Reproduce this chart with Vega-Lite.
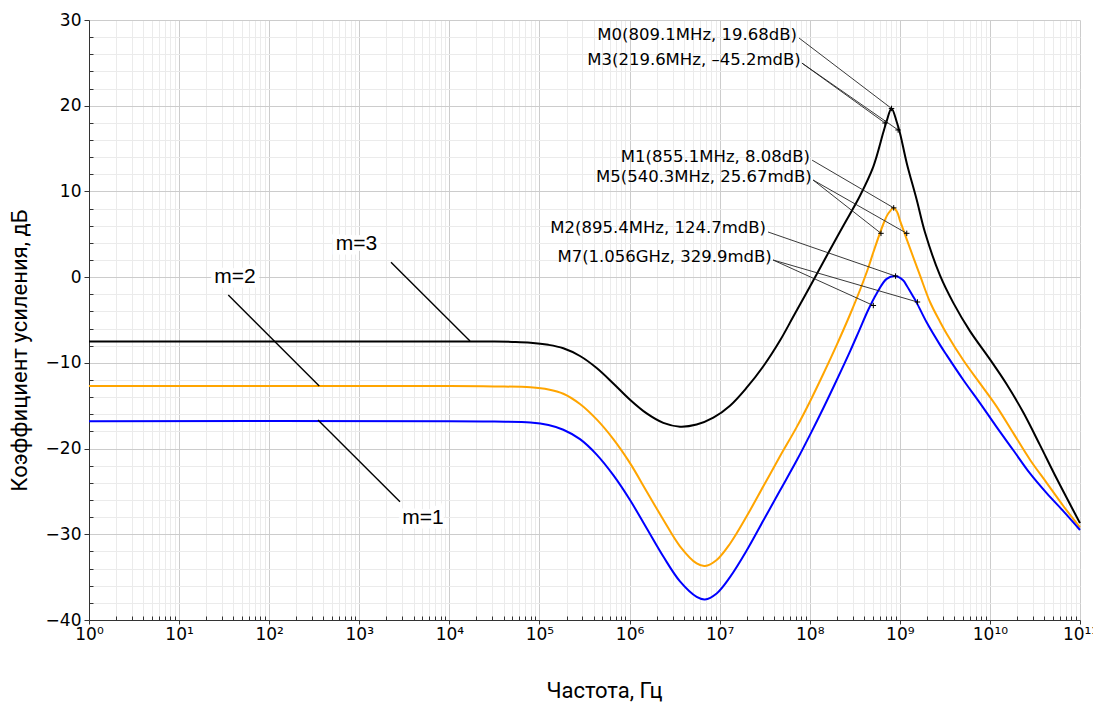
{
  "$schema": "https://vega.github.io/schema/vega-lite/v6.json",
  "width": 991,
  "height": 600,
  "autosize": {"type": "none"},
  "padding": {"left": 89, "top": 20, "right": 13, "bottom": 82},
  "background": "white",
  "config": {"view": {"stroke": null}, "font": "DejaVu Sans"},
  "datasets": {
    "curves": [
      {"series": "m=3", "f": 1, "db": -7.5},
      {"series": "m=3", "f": 1e4, "db": -7.5},
      {"series": "m=3", "f": 3.162e4, "db": -7.52},
      {"series": "m=3", "f": 5.012e4, "db": -7.56},
      {"series": "m=3", "f": 7.943e4, "db": -7.65},
      {"series": "m=3", "f": 1.259e5, "db": -7.9},
      {"series": "m=3", "f": 1.841e5, "db": -8.3},
      {"series": "m=3", "f": 2.818e5, "db": -9.2},
      {"series": "m=3", "f": 4.315e5, "db": -10.6},
      {"series": "m=3", "f": 6.607e5, "db": -12.4},
      {"series": "m=3", "f": 1.012e6, "db": -14.3},
      {"series": "m=3", "f": 1.549e6, "db": -15.9},
      {"series": "m=3", "f": 2.371e6, "db": -17.0},
      {"series": "m=3", "f": 3.631e6, "db": -17.45},
      {"series": "m=3", "f": 5.559e6, "db": -17.2},
      {"series": "m=3", "f": 8.511e6, "db": -16.4},
      {"series": "m=3", "f": 1.303e7, "db": -15.0},
      {"series": "m=3", "f": 1.995e7, "db": -12.9},
      {"series": "m=3", "f": 3.055e7, "db": -10.4},
      {"series": "m=3", "f": 4.677e7, "db": -7.4},
      {"series": "m=3", "f": 6.577e7, "db": -4.6},
      {"series": "m=3", "f": 1.007e8, "db": -1.1},
      {"series": "m=3", "f": 1.545e8, "db": 2.5},
      {"series": "m=3", "f": 2.36e8, "db": 6.0},
      {"series": "m=3", "f": 3.614e8, "db": 9.5},
      {"series": "m=3", "f": 5.082e8, "db": 12.9},
      {"series": "m=3", "f": 6.561e8, "db": 16.9},
      {"series": "m=3", "f": 7.145e8, "db": 18.2},
      {"series": "m=3", "f": 8.091e8, "db": 19.68},
      {"series": "m=3", "f": 9.247e8, "db": 18.1},
      {"series": "m=3", "f": 1.005e9, "db": 16.8},
      {"series": "m=3", "f": 1.194e9, "db": 13.3},
      {"series": "m=3", "f": 1.542e9, "db": 9.0},
      {"series": "m=3", "f": 1.905e9, "db": 5.2},
      {"series": "m=3", "f": 2.793e9, "db": 0.2},
      {"series": "m=3", "f": 3.926e9, "db": -3.0},
      {"series": "m=3", "f": 6.012e9, "db": -6.3},
      {"series": "m=3", "f": 1.002e10, "db": -9.6},
      {"series": "m=3", "f": 1.535e10, "db": -12.5},
      {"series": "m=3", "f": 2.35e10, "db": -15.8},
      {"series": "m=3", "f": 3.597e10, "db": -19.6},
      {"series": "m=3", "f": 5.508e10, "db": -23.5},
      {"series": "m=3", "f": 1e11, "db": -28.7},

      {"series": "m=2", "f": 1, "db": -12.7},
      {"series": "m=2", "f": 1e4, "db": -12.7},
      {"series": "m=2", "f": 3.162e4, "db": -12.75},
      {"series": "m=2", "f": 7.943e4, "db": -12.85},
      {"series": "m=2", "f": 1.259e5, "db": -13.1},
      {"series": "m=2", "f": 1.841e5, "db": -13.6},
      {"series": "m=2", "f": 2.818e5, "db": -14.8},
      {"series": "m=2", "f": 4.315e5, "db": -16.6},
      {"series": "m=2", "f": 6.607e5, "db": -18.9},
      {"series": "m=2", "f": 1.012e6, "db": -21.7},
      {"series": "m=2", "f": 1.549e6, "db": -25.0},
      {"series": "m=2", "f": 2.371e6, "db": -28.3},
      {"series": "m=2", "f": 3.631e6, "db": -31.4},
      {"series": "m=2", "f": 5.559e6, "db": -33.4},
      {"series": "m=2", "f": 6.871e6, "db": -33.7},
      {"series": "m=2", "f": 9.268e6, "db": -33.0},
      {"series": "m=2", "f": 1.303e7, "db": -31.1},
      {"series": "m=2", "f": 1.995e7, "db": -27.9},
      {"series": "m=2", "f": 3.055e7, "db": -24.4},
      {"series": "m=2", "f": 4.677e7, "db": -20.9},
      {"series": "m=2", "f": 7.161e7, "db": -17.5},
      {"series": "m=2", "f": 1.007e8, "db": -14.5},
      {"series": "m=2", "f": 1.413e8, "db": -11.3},
      {"series": "m=2", "f": 1.995e8, "db": -7.9},
      {"series": "m=2", "f": 2.818e8, "db": -4.3},
      {"series": "m=2", "f": 3.614e8, "db": -1.5},
      {"series": "m=2", "f": 4.467e8, "db": 1.1},
      {"series": "m=2", "f": 5.082e8, "db": 2.9},
      {"series": "m=2", "f": 6.561e8, "db": 6.2},
      {"series": "m=2", "f": 7.413e8, "db": 7.4},
      {"series": "m=2", "f": 8.551e8, "db": 8.08},
      {"series": "m=2", "f": 9.333e8, "db": 7.6},
      {"series": "m=2", "f": 1.005e9, "db": 6.6},
      {"series": "m=2", "f": 1.194e9, "db": 4.4},
      {"series": "m=2", "f": 1.675e9, "db": 0.2},
      {"series": "m=2", "f": 2.163e9, "db": -2.9},
      {"series": "m=2", "f": 2.793e9, "db": -5.2},
      {"series": "m=2", "f": 3.311e9, "db": -6.6},
      {"series": "m=2", "f": 5.07e9, "db": -9.7},
      {"series": "m=2", "f": 7.762e9, "db": -12.4},
      {"series": "m=2", "f": 1.189e10, "db": -15.1},
      {"series": "m=2", "f": 1.82e10, "db": -18.2},
      {"series": "m=2", "f": 2.786e10, "db": -21.3},
      {"series": "m=2", "f": 4.266e10, "db": -24.0},
      {"series": "m=2", "f": 6.531e10, "db": -26.7},
      {"series": "m=2", "f": 1e11, "db": -29.2},

      {"series": "m=1", "f": 1, "db": -16.8},
      {"series": "m=1", "f": 1e4, "db": -16.8},
      {"series": "m=1", "f": 3.162e4, "db": -16.85},
      {"series": "m=1", "f": 7.943e4, "db": -16.95},
      {"series": "m=1", "f": 1.259e5, "db": -17.25},
      {"series": "m=1", "f": 1.841e5, "db": -17.8},
      {"series": "m=1", "f": 2.818e5, "db": -18.9},
      {"series": "m=1", "f": 4.315e5, "db": -20.7},
      {"series": "m=1", "f": 6.607e5, "db": -23.1},
      {"series": "m=1", "f": 1.012e6, "db": -26.0},
      {"series": "m=1", "f": 1.549e6, "db": -29.3},
      {"series": "m=1", "f": 2.371e6, "db": -32.6},
      {"series": "m=1", "f": 3.631e6, "db": -35.5},
      {"series": "m=1", "f": 5.559e6, "db": -37.3},
      {"series": "m=1", "f": 6.871e6, "db": -37.6},
      {"series": "m=1", "f": 9.268e6, "db": -36.9},
      {"series": "m=1", "f": 1.303e7, "db": -35.0},
      {"series": "m=1", "f": 1.995e7, "db": -31.9},
      {"series": "m=1", "f": 3.055e7, "db": -28.4},
      {"series": "m=1", "f": 4.677e7, "db": -24.9},
      {"series": "m=1", "f": 7.161e7, "db": -21.4},
      {"series": "m=1", "f": 1.007e8, "db": -18.4},
      {"series": "m=1", "f": 1.413e8, "db": -15.3},
      {"series": "m=1", "f": 1.995e8, "db": -12.0},
      {"series": "m=1", "f": 2.818e8, "db": -8.6},
      {"series": "m=1", "f": 3.548e8, "db": -6.2},
      {"series": "m=1", "f": 4.467e8, "db": -3.8},
      {"series": "m=1", "f": 5.534e8, "db": -1.9},
      {"series": "m=1", "f": 7.145e8, "db": -0.2},
      {"series": "m=1", "f": 8.954e8, "db": 0.125},
      {"series": "m=1", "f": 1.094e9, "db": -0.4},
      {"series": "m=1", "f": 1.194e9, "db": -1.0},
      {"series": "m=1", "f": 1.413e9, "db": -2.3},
      {"series": "m=1", "f": 1.542e9, "db": -3.0},
      {"series": "m=1", "f": 1.991e9, "db": -5.3},
      {"series": "m=1", "f": 2.793e9, "db": -7.9},
      {"series": "m=1", "f": 3.311e9, "db": -9.1},
      {"series": "m=1", "f": 5.07e9, "db": -12.0},
      {"series": "m=1", "f": 7.762e9, "db": -14.7},
      {"series": "m=1", "f": 1.189e10, "db": -17.5},
      {"series": "m=1", "f": 1.82e10, "db": -20.2},
      {"series": "m=1", "f": 2.786e10, "db": -22.9},
      {"series": "m=1", "f": 4.266e10, "db": -25.2},
      {"series": "m=1", "f": 6.531e10, "db": -27.3},
      {"series": "m=1", "f": 1e11, "db": -29.5}
    ],
    "markerLeaders": [
      {"f": 7.603e7, "db": 27.9, "f2": 8.091e8, "db2": 19.68},
      {"f": 8.2e7, "db": 24.97, "f2": 6.855e8, "db2": 17.98},
      {"f": 8.2e7, "db": 24.97, "f2": 9.572e8, "db2": 17.17},
      {"f": 1.062e8, "db": 13.65, "f2": 8.551e8, "db2": 8.08},
      {"f": 1.089e8, "db": 11.33, "f2": 6.18e8, "db2": 5.11},
      {"f": 1.089e8, "db": 11.33, "f2": 1.194e9, "db2": 5.11},
      {"f": 3.443e7, "db": 5.27, "f2": 8.954e8, "db2": 0.125},
      {"f": 3.917e7, "db": 2.0, "f2": 5.082e8, "db2": -3.31},
      {"f": 3.917e7, "db": 2.0, "f2": 1.57e9, "db2": -2.9}
    ],
    "markers": [
      {"f": 8.091e8, "db": 19.68},
      {"f": 6.855e8, "db": 17.98},
      {"f": 9.572e8, "db": 17.17},
      {"f": 8.551e8, "db": 8.08},
      {"f": 6.18e8, "db": 5.11},
      {"f": 1.194e9, "db": 5.11},
      {"f": 8.954e8, "db": 0.125},
      {"f": 5.082e8, "db": -3.31},
      {"f": 1.57e9, "db": -2.9}
    ],
    "markerLabels": [
      {"text": "M0(809.1MHz, 19.68dB)", "f": 7.228e7, "db": 28.25},
      {"text": "M3(219.6MHz, –45.2mdB)", "f": 7.943e7, "db": 25.3},
      {"text": "M1(855.1MHz, 8.08dB)", "f": 1.007e8, "db": 14.0},
      {"text": "M5(540.3MHz, 25.67mdB)", "f": 1.052e8, "db": 11.68},
      {"text": "M2(895.4MHz, 124.7mdB)", "f": 3.273e7, "db": 5.7},
      {"text": "M7(1.056GHz, 329.9mdB)", "f": 3.784e7, "db": 2.38}
    ],
    "seriesLeaders": [
      {"f": 2249, "db": 1.75, "f2": 1.694e4, "db2": -7.45},
      {"f": 35.16, "db": -2.08, "f2": 359.7, "db2": -12.7},
      {"f": 348.3, "db": -16.66, "f2": 2831, "db2": -26.2}
    ],
    "seriesLabels": [
      {"text": "m=3", "f": 933.3, "db": 3.92},
      {"text": "m=2", "f": 41.78, "db": 0.05},
      {"text": "m=1", "f": 5093, "db": -28.1}
    ],
    "frame": [{"f": 1e11}]
  },
  "encoding": {
    "x": {
      "field": "f",
      "type": "quantitative",
      "scale": {"type": "log", "domain": [1, 1e11], "nice": false},
      "axis": {
        "title": "Частота, Гц",
        "values": [1,2,3,4,5,6,7,8,9,10,20,30,40,50,60,70,80,90,100,200,300,400,500,600,700,800,900,1e3,2e3,3e3,4e3,5e3,6e3,7e3,8e3,9e3,1e4,2e4,3e4,4e4,5e4,6e4,7e4,8e4,9e4,1e5,2e5,3e5,4e5,5e5,6e5,7e5,8e5,9e5,1e6,2e6,3e6,4e6,5e6,6e6,7e6,8e6,9e6,1e7,2e7,3e7,4e7,5e7,6e7,7e7,8e7,9e7,1e8,2e8,3e8,4e8,5e8,6e8,7e8,8e8,9e8,1e9,2e9,3e9,4e9,5e9,6e9,7e9,8e9,9e9,1e10,2e10,3e10,4e10,5e10,6e10,7e10,8e10,9e10,1e11],
        "labelExpr": "abs(log(datum.value)/LN10 - round(log(datum.value)/LN10)) < 0.001 ? '10' + ['⁰','¹','²','³','⁴','⁵','⁶','⁷','⁸','⁹','¹⁰','¹¹'][round(log(datum.value)/LN10)] : ''",
        "grid": true,
        "gridColor": {"condition": {"test": "abs(log(datum.value)/LN10 - round(log(datum.value)/LN10)) < 0.001", "value": "#cccccc"}, "value": "#ebebeb"},
        "tickSize": {"condition": {"test": "abs(log(datum.value)/LN10 - round(log(datum.value)/LN10)) < 0.001", "value": 4}, "value": -4},
        "tickColor": "#333333",
        "domainColor": "#333333",
        "labelFont": "DejaVu Sans",
        "labelFontSize": 17,
        "labelColor": "#000000",
        "labelOverlap": false,
        "labelFlush": false,
        "labelBound": false,
        "labelPadding": 2,
        "titleFont": "Roboto",
        "titleFontSize": 22,
        "titleFontWeight": "normal",
        "titleColor": "#000000",
        "titleX": 515,
        "titleY": 70,
        "titleAlign": "center",
        "titleBaseline": "middle"
      }
    },
    "y": {
      "field": "db",
      "type": "quantitative",
      "scale": {"domain": [-40, 30], "nice": false, "zero": false},
      "axis": {
        "title": "Коэффициент усиления, дБ",
        "values": [-40,-38,-36,-34,-32,-30,-28,-26,-24,-22,-20,-18,-16,-14,-12,-10,-8,-6,-4,-2,0,2,4,6,8,10,12,14,16,18,20,22,24,26,28,30],
        "labelExpr": "datum.value % 10 == 0 ? datum.label : ''",
        "grid": true,
        "gridColor": {"condition": {"test": "datum.value % 10 == 0", "value": "#cccccc"}, "value": "#ebebeb"},
        "tickSize": {"condition": {"test": "datum.value % 10 == 0", "value": 5}, "value": -4},
        "tickColor": "#333333",
        "domainColor": "#333333",
        "labelFont": "DejaVu Sans",
        "labelFontSize": 17,
        "labelColor": "#000000",
        "labelOverlap": false,
        "labelBound": false,
        "labelFlush": false,
        "labelPadding": 3,
        "titleFont": "Roboto",
        "titleFontSize": 22,
        "titleFontWeight": "normal",
        "titleColor": "#000000",
        "titleX": -70,
        "titleY": 330,
        "titleAngle": -90,
        "titleAlign": "center",
        "titleBaseline": "middle"
      }
    }
  },
  "layer": [
    {
      "data": {"name": "frame"},
      "mark": {"type": "rule", "strokeWidth": 1, "color": "#777777"},
      "encoding": {"y": {"datum": -40}, "y2": {"datum": 30}}
    },
    {
      "data": {"name": "curves"},
      "mark": {"type": "line", "strokeWidth": 2, "interpolate": "catmull-rom"},
      "encoding": {
        "color": {
          "field": "series",
          "type": "nominal",
          "scale": {"domain": ["m=1", "m=2", "m=3"], "range": ["#0000ff", "#ffa500", "#000000"]},
          "legend": null
        }
      }
    },
    {
      "data": {"name": "markerLeaders"},
      "mark": {"type": "rule", "strokeWidth": 0.9, "color": "#222222"},
      "encoding": {"x2": {"field": "f2"}, "y2": {"field": "db2"}}
    },
    {
      "data": {"name": "markers"},
      "mark": {"type": "point", "shape": "M-1,0L1,0M0,-1L0,1", "size": 30, "filled": false, "strokeWidth": 1, "color": "#000000", "opacity": 1}
    },
    {
      "data": {"name": "markerLabels"},
      "mark": {"type": "text", "align": "right", "baseline": "middle", "font": "DejaVu Sans", "fontSize": 16.5, "color": "#000000"},
      "encoding": {"text": {"field": "text"}}
    },
    {
      "data": {"name": "seriesLeaders"},
      "mark": {"type": "rule", "strokeWidth": 1.4, "color": "#000000"},
      "encoding": {"x2": {"field": "f2"}, "y2": {"field": "db2"}}
    },
    {
      "data": {"name": "seriesLabels"},
      "mark": {"type": "text", "align": "center", "baseline": "middle", "font": "Liberation Sans", "fontSize": 21, "stroke": "#ffffff", "strokeWidth": 9, "strokeJoin": "miter", "color": "#ffffff"},
      "encoding": {"text": {"field": "text"}}
    },
    {
      "data": {"name": "seriesLabels"},
      "mark": {"type": "text", "align": "center", "baseline": "middle", "font": "Liberation Sans", "fontSize": 21, "color": "#000000"},
      "encoding": {"text": {"field": "text"}}
    }
  ]
}
